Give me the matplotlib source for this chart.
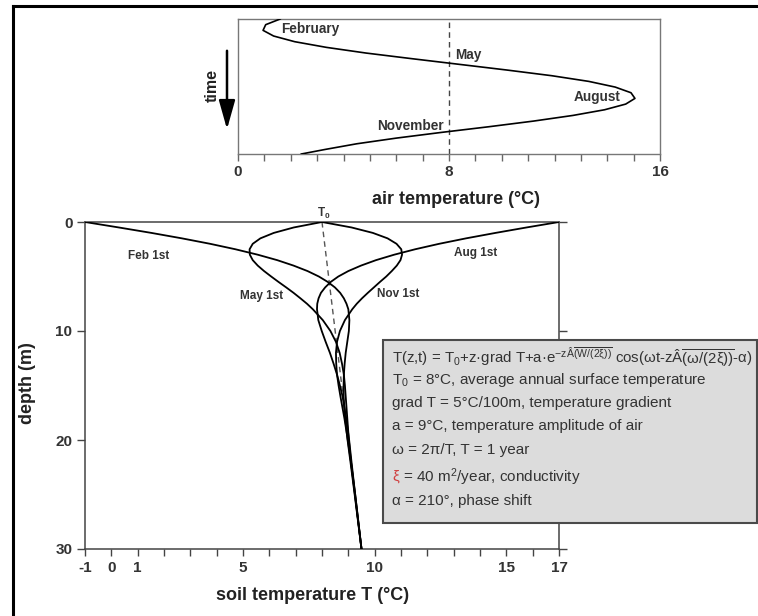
import matplotlib
matplotlib.use('Agg')
import matplotlib.pyplot as plt
from matplotlib.patches import Rectangle, FancyArrowPatch
from matplotlib.lines import Line2D

plt.rcParams['font.family'] = ['Liberation Sans', 'DejaVu Sans']
plt.rcParams['mathtext.fontset'] = 'custom'
plt.rcParams['mathtext.rm'] = 'Liberation Sans'
plt.rcParams['mathtext.it'] = 'Liberation Sans:italic'
plt.rcParams['mathtext.bf'] = 'Liberation Sans:bold'
plt.rcParams['mathtext.default'] = 'regular'

# ---------------- data ----------------
# top panel: air temperature through the year (time runs downward)
time_months = [0, 0.5, 1.0, 1.5, 2, 2.5, 3, 3.5, 4, 4.5, 5, 5.5, 6, 6.5, 7,
               7.5, 8, 8.5, 9, 9.5, 10, 10.5, 11, 11.5, 11.9]
air_temp = [1.6, 1.05, 0.95, 1.35, 2.15, 3.35, 4.85, 6.6, 8.4, 10.2, 11.9, 13.3,
            14.3, 14.9, 15.05, 14.7, 13.9, 12.7, 11.2, 9.5, 7.7, 6.0, 4.5, 3.3, 2.4]
month_labels = ['February', 'May', 'August', 'November']
month_label_T = [2.75, 8.75, 13.6, 6.55]
month_label_t = [0.9, 3.2, 6.9, 9.4]
air_mean = 8
air_xticks = list(range(0, 17))
air_xticklabels = ['0', '8', '16']

# bottom panel: soil temperature profiles
depth_m = [0, 0.5, 1, 1.5, 2, 2.5, 3, 3.5, 4, 4.5, 5, 5.5, 6, 6.5, 7, 7.5, 8,
           9, 10, 11, 12, 13, 14, 15, 16, 18, 20, 22, 25, 30]
feb_1st = [-1.0, 0.28, 1.52, 2.68, 3.75, 4.71, 5.56, 6.30, 6.92, 7.45, 7.88, 8.22,
           8.49, 8.69, 8.83, 8.93, 9.00, 9.04, 9.02, 8.96, 8.90, 8.86, 8.83, 8.82,
           8.82, 8.88, 8.97, 9.08, 9.24, 9.5]
may_1st = [8.0, 6.93, 6.17, 5.66, 5.37, 5.25, 5.26, 5.37, 5.56, 5.80, 6.07, 6.35,
           6.64, 6.92, 7.18, 7.43, 7.65, 8.03, 8.32, 8.53, 8.67, 8.76, 8.83, 8.87,
           8.90, 8.96, 9.02, 9.10, 9.25, 9.5]
aug_1st = [17.0, 15.77, 14.59, 13.47, 12.45, 11.54, 10.74, 10.05, 9.48, 9.00, 8.62,
           8.33, 8.12, 7.96, 7.87, 7.82, 7.81, 7.86, 7.99, 8.14, 8.30, 8.44, 8.57,
           8.68, 8.78, 8.92, 9.03, 9.12, 9.26, 9.5]
nov_1st = [8.0, 9.12, 9.93, 10.49, 10.83, 11.01, 11.04, 10.98, 10.84, 10.65, 10.44,
           10.20, 9.97, 9.74, 9.52, 9.32, 9.15, 8.87, 8.68, 8.57, 8.53, 8.54, 8.57,
           8.63, 8.70, 8.85, 8.98, 9.10, 9.26, 9.5]
gradient_T = [8.0, 9.5]
gradient_z = [0, 30]
profile_labels = ['Feb 1st', 'May 1st', 'Nov 1st', 'Aug 1st']
profile_label_T = [1.4, 5.7, 10.9, 13.85]
profile_label_z = [3.1, 6.8, 6.6, 2.8]
soil_xticks = list(range(-1, 18))
soil_xticklabels = {-1: '-1', 0: '0', 1: '1', 5: '5', 10: '10', 15: '15', 17: '17'}
soil_yticks = [0, 10, 20, 30]

box_lines = [
    r'T(z,t) = T$_0$+z·grad T+a·e$^{-zÂ\overline{(W/(2ξ))}}$ cos(ωt-zÂ$\overline{(ω/(2ξ))}$-α)',
    r'T$_0$ = 8°C, average annual surface temperature',
    'grad T = 5°C/100m, temperature gradient',
    'a = 9°C, temperature amplitude of air',
    'ω = 2π/T, T = 1 year',
    r' = 40 m$^2$/year, conductivity',
    'α = 210°, phase shift',
]

# ---------------- figure ----------------
W, H = 758, 616
fig = plt.figure(figsize=(W / 100, H / 100), dpi=100)
fig.patch.set_facecolor('white')

TXT = '#333333'

# ---- top axes ----
ax1 = fig.add_axes([238 / W, 1 - 154 / H, 422 / W, 135 / H])
ax1.plot(air_temp, time_months, color='black', lw=1.2, zorder=3)
ax1.axvline(air_mean, color='#444444', lw=1.0, ls=(0, (4, 3)), zorder=2)
ax1.set_xlim(0, 16)
ax1.set_ylim(11.9, 0)
ax1.set_xticks(air_xticks)
ax1.set_xticklabels([str(v) if str(v) in air_xticklabels else '' for v in air_xticks],
                    fontsize=11, fontweight='bold', color=TXT)
ax1.set_yticks([])
ax1.tick_params(axis='x', direction='out', length=5, width=1, color='#666666', pad=3)
for sp in ax1.spines.values():
    sp.set_color('#777777')
    sp.set_linewidth(1.0)
for lab, T, t in zip(month_labels, month_label_T, month_label_t):
    ax1.text(T, t, lab, fontsize=9.8, fontweight='bold', color=TXT,
             ha='center', va='center')

fig.text(456 / W, 1 - 199 / H, 'air temperature (°C)', fontsize=13,
         fontweight='bold', color='#222222', ha='center', va='center')
fig.text(212 / W, 1 - 86 / H, 'time', fontsize=11.5, fontweight='bold',
         color='#222222', rotation=90, ha='center', va='center')
fig.add_artist(FancyArrowPatch(
    (227 / W, 1 - 48 / H), (227 / W, 1 - 132 / H), transform=fig.transFigure,
    arrowstyle='-|>,head_length=1.6,head_width=0.45', mutation_scale=11,
    color='black', lw=1.8))

# ---- bottom axes ----
ax2 = fig.add_axes([85 / W, 1 - 549 / H, 474 / W, 327 / H])
ax2.plot(gradient_T, gradient_z, color='#555555', lw=1.0, ls=(0, (4, 3)), zorder=2)
for prof in (feb_1st, may_1st, aug_1st, nov_1st):
    ax2.plot(prof, depth_m, color='black', lw=1.3, zorder=3)
ax2.set_xlim(-1, 17)
ax2.set_ylim(30, 0)
ax2.set_xticks(soil_xticks)
ax2.set_xticklabels([soil_xticklabels.get(v, '') for v in soil_xticks],
                    fontsize=11, fontweight='bold', color=TXT)
ax2.set_yticks(soil_yticks)
ax2.set_yticklabels([str(v) for v in soil_yticks], fontsize=11,
                    fontweight='bold', color=TXT)
ax2.tick_params(axis='x', direction='out', length=5, width=1, color='#444444', pad=4)
ax2.tick_params(axis='y', direction='out', length=6, width=1, color='#444444',
                left=True, right=True, pad=3)
for sp in ax2.spines.values():
    sp.set_color('#444444')
    sp.set_linewidth(1.1)
for lab, T, z in zip(profile_labels, profile_label_T, profile_label_z):
    ax2.text(T, z, lab, fontsize=8.5, fontweight='bold', color=TXT,
             ha='center', va='center')
ax2.text(8.05, -0.75, r'T$_0$', fontsize=8.5, fontweight='bold', color=TXT,
         ha='center', va='center')

fig.text(313 / W, 1 - 595 / H, 'soil temperature T (°C)', fontsize=13,
         fontweight='bold', color='#222222', ha='center', va='center')
fig.text(27 / W, 1 - 383 / H, 'depth (m)', fontsize=13, fontweight='bold',
         color='#222222', rotation=90, ha='center', va='center')

# ---- formula box ----
fig.add_artist(Rectangle((383 / W, 1 - 523 / H), (757 - 383) / W, 183 / H,
                         transform=fig.transFigure, facecolor='#dcdcdc',
                         edgecolor='#4a4a4a', lw=1.5, zorder=5))
line_y = [357, 380, 403, 426, 450, 477, 501]
for i, (txt, y) in enumerate(zip(box_lines, line_y)):
    fs = 10.8 if i == 0 else 11
    if i == 5:
        fig.text(392 / W, 1 - y / H, 'ξ', fontsize=fs, color='#d04040',
                 ha='left', va='center', zorder=6)
        fig.text(399 / W, 1 - y / H, txt, fontsize=fs, color=TXT,
                 ha='left', va='center', zorder=6)
    else:
        fig.text(392 / W, 1 - y / H, txt, fontsize=fs, color=TXT,
                 ha='left', va='center', zorder=6)

# ---- outer frame ----
fig.add_artist(Line2D([13 / W, 13 / W], [0, 1 - 6 / H], transform=fig.transFigure,
                      color='black', lw=2.2))
fig.add_artist(Line2D([13 / W, 1], [1 - 6 / H, 1 - 6 / H], transform=fig.transFigure,
                      color='black', lw=2.2))

fig.savefig('out.png', dpi=100)
